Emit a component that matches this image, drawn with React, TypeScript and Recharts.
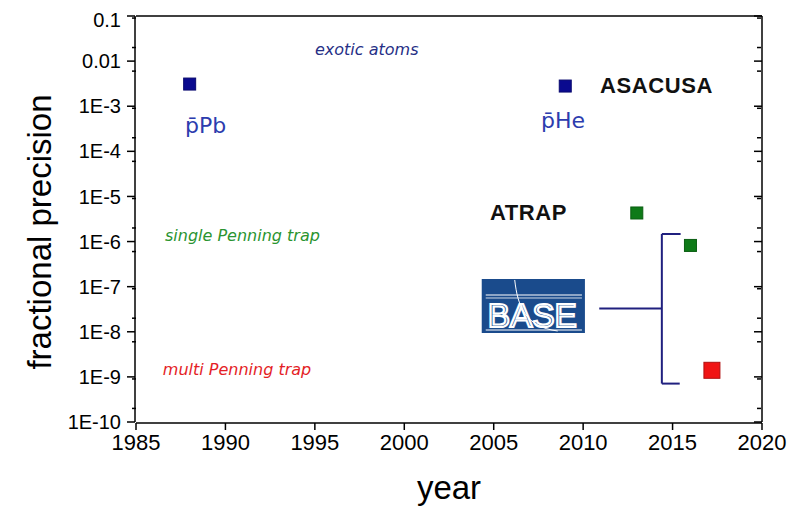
import {
  ReferenceArea,
  ReferenceDot,
  ReferenceLine,
  Scatter,
  ScatterChart,
  XAxis,
  YAxis,
} from 'recharts'

const yearTicks = [1985, 1990, 1995, 2000, 2005, 2010, 2015, 2020]
const yearMinorTicks = [1987.5, 1992.5, 1997.5, 2002.5, 2007.5, 2012.5, 2017.5]
const precisionTicks = [1e-10, 1e-9, 1e-8, 1e-7, 1e-6, 1e-5, 1e-4, 1e-3, 1e-2, 1e-1]
const precisionLabels = ['1E-10', '1E-9', '1E-8', '1E-7', '1E-6', '1E-5', '1E-4', '1E-3', '0.01', '0.1']
// log minor ticks: 2..9 inside each decade
const precisionMinorTicks = precisionTicks
  .slice(0, -1)
  .flatMap((d) => [2, 3, 4, 5, 6, 7, 8, 9].map((m) => m * d))

// antiprotonic atoms (pPb, pHe)
const exoticAtoms = [
  { year: 1988, precision: 3.1e-3 },
  { year: 2009, precision: 2.8e-3 },
]
// ATRAP 2013, BASE 2016
const singleTrap = [
  { year: 2013, precision: 4.3e-6 },
  { year: 2016, precision: 8.2e-7 },
]
// BASE 2017
const multiTrap = [{ year: 2017.2, precision: 1.4e-9 }]

// bracket joining the BASE logo to its two points
const bracketSegments = [
  [{ x: 2014.4, y: 1.47e-6 }, { x: 2014.4, y: 7.1e-10 }],
  [{ x: 2014.4, y: 1.47e-6 }, { x: 2015.45, y: 1.47e-6 }],
  [{ x: 2014.4, y: 7.1e-10 }, { x: 2015.4, y: 7.1e-10 }],
  [{ x: 2010.9, y: 3.3e-8 }, { x: 2014.4, y: 3.3e-8 }],
]
const logoBox = { x1: 2004.33, x2: 2010.1, y1: 9.4e-9, y2: 1.48e-7 }

type Note = {
  text: string
  year: number
  precision: number
  color: string
  size: number
  bold?: boolean
  italic?: boolean
  anchor?: 'start' | 'middle'
  font?: string
}

const notes: Note[] = [
  { text: 'exotic atoms', year: 1997.9, precision: 1.36e-2, color: '#262f86', size: 16, italic: true, anchor: 'middle' },
  { text: 'single Penning trap', year: 1986.62, precision: 1.03e-6, color: '#2a9430', size: 16, italic: true },
  { text: 'multi Penning trap', year: 1986.5, precision: 1.1e-9, color: '#e41e26', size: 16, italic: true },
  { text: 'p\u0304Pb', year: 1987.74, precision: 2.55e-4, color: '#2c3cae', size: 22 },
  { text: 'p\u0304He', year: 2007.64, precision: 3.3e-4, color: '#2c3cae', size: 22 },
  { text: 'ASACUSA', year: 2010.94, precision: 1.96e-3, color: '#111', size: 22, bold: true, font: 'Liberation Sans' },
  { text: 'ATRAP', year: 2004.79, precision: 3.0e-6, color: '#111', size: 22, bold: true, font: 'Liberation Sans' },
]

const tickFont = 'Liberation Sans, Arial, sans-serif'
const axisStroke = { stroke: '#000', strokeWidth: 1.5 }
// tick={false} drops the tick lines too, so unlabeled axes get an empty label instead
const noLabel = () => <g />

const square = (size: number, fill: string, stroke: string) => (props: any) => (
  <rect
    x={props.cx - size / 2}
    y={props.cy - size / 2}
    width={size}
    height={size}
    fill={fill}
    stroke={stroke}
    strokeWidth={1}
  />
)

function noteLabel(n: Note) {
  return (p: any) => (
    <text
      x={p.viewBox.x}
      y={p.viewBox.y}
      fill={n.color}
      fontSize={n.size}
      fontWeight={n.bold ? 'bold' : 'normal'}
      fontStyle={n.italic ? 'italic' : 'normal'}
      fontFamily={n.font ?? 'DejaVu Sans, Verdana, sans-serif'}
      textAnchor={n.anchor ?? 'start'}
      letterSpacing={n.bold ? 0.6 : 0}
    >
      {n.text}
    </text>
  )
}

function BaseLogo(p: any) {
  const { x, y, width, height } = p.viewBox
  return (
    <g>
      <line x1={x + 4} x2={x + width - 3} y1={y + 16} y2={y + 16} stroke="#fff" strokeWidth={1.2} />
      <line x1={x + 4} x2={x + width - 3} y1={y + 19} y2={y + 19} stroke="#fff" strokeWidth={0.8} />
      <line x1={x + 4} x2={x + width - 3} y1={y + height - 3} y2={y + height - 3} stroke="#fff" strokeWidth={1.2} />
      <text
        x={x + 6}
        y={y + height - 6}
        fill="#1a4b8c"
        stroke="#fff"
        strokeWidth={2.2}
        fontSize={34}
        fontFamily="Liberation Sans, Arial, sans-serif"
        textLength={width - 14}
        lengthAdjust="spacingAndGlyphs"
      >
        BASE
      </text>
      <path
        d={`M ${x + 33} ${y + 1} C ${x + 36} ${y + 28}, ${x + 44} ${y + height - 6}, ${x + 76} ${y + height - 2}`}
        fill="none"
        stroke="#fff"
        strokeWidth={1}
      />
    </g>
  )
}

export default function App() {
  const labelFor = new Map(precisionTicks.map((t, i) => [t, precisionLabels[i]]))
  return (
    <ScatterChart
      width={790}
      height={501}
      margin={{ top: 8, right: 36, bottom: 0, left: 0 }}
      style={{ fontFamily: tickFont }}
    >
      <XAxis
        xAxisId="main"
        type="number"
        dataKey="year"
        domain={[1985, 2020]}
        allowDataOverflow
        ticks={yearTicks}
        tickSize={7}
        tickMargin={4}
        axisLine={axisStroke}
        tickLine={axisStroke}
        tick={{ fill: '#000', fontSize: 22, fontFamily: tickFont }}
        height={86}
        label={(p: any) => (
          <text
            x={p.viewBox.x + p.viewBox.width / 2}
            y={p.viewBox.y + p.viewBox.height - 10}
            textAnchor="middle"
            fontSize={33}
            fontFamily={tickFont}
            fill="#000"
          >
            year
          </text>
        )}
      />
      {/* minor ticks: 1px-high axis that ends up right against the frame */}
      <XAxis
        xAxisId="bottomMinor"
        type="number"
        domain={[1985, 2020]}
        allowDataOverflow
        ticks={yearMinorTicks}
        tick={noLabel}
        tickSize={4}
        axisLine={false}
        tickLine={axisStroke}
        height={1}
      />
      <XAxis
        xAxisId="top"
        orientation="top"
        type="number"
        domain={[1985, 2020]}
        allowDataOverflow
        ticks={yearTicks}
        mirror
        tick={noLabel}
        tickSize={7}
        axisLine={axisStroke}
        tickLine={axisStroke}
        height={1}
      />
      <XAxis
        xAxisId="topMinor"
        orientation="top"
        type="number"
        domain={[1985, 2020]}
        allowDataOverflow
        ticks={yearMinorTicks}
        mirror
        tick={noLabel}
        tickSize={4}
        axisLine={false}
        tickLine={axisStroke}
        height={1}
      />
      <YAxis
        yAxisId="main"
        type="number"
        dataKey="precision"
        scale="log"
        domain={[1e-10, 0.1]}
        allowDataOverflow
        ticks={precisionTicks}
        tickFormatter={(v: number) => labelFor.get(v) ?? ''}
        tickSize={8}
        tickMargin={6}
        axisLine={axisStroke}
        tickLine={axisStroke}
        tick={{ fill: '#000', fontSize: 20, fontFamily: tickFont }}
        width={127}
        label={(p: any) => {
          const cx = p.viewBox.x + 31
          const cy = p.viewBox.y + p.viewBox.height / 2 + 13
          return (
            <text
              x={cx}
              y={cy}
              transform={`rotate(-90 ${cx} ${cy})`}
              textAnchor="middle"
              dominantBaseline="central"
              fontSize={33}
              fontFamily={tickFont}
              fill="#000"
            >
              fractional precision
            </text>
          )
        }}
      />
      <YAxis
        yAxisId="leftMinor"
        type="number"
        scale="log"
        domain={[1e-10, 0.1]}
        allowDataOverflow
        ticks={precisionMinorTicks}
        tick={noLabel}
        tickSize={4}
        axisLine={false}
        tickLine={axisStroke}
        width={1}
      />
      <YAxis
        yAxisId="right"
        orientation="right"
        type="number"
        scale="log"
        domain={[1e-10, 0.1]}
        allowDataOverflow
        ticks={precisionTicks}
        mirror
        tick={noLabel}
        tickSize={8}
        axisLine={axisStroke}
        tickLine={axisStroke}
        width={1}
      />
      <YAxis
        yAxisId="rightMinor"
        orientation="right"
        type="number"
        scale="log"
        domain={[1e-10, 0.1]}
        allowDataOverflow
        ticks={precisionMinorTicks}
        mirror
        tick={noLabel}
        tickSize={4}
        axisLine={false}
        tickLine={axisStroke}
        width={1}
      />

      <ReferenceArea
        xAxisId="main"
        yAxisId="main"
        x1={logoBox.x1}
        x2={logoBox.x2}
        y1={logoBox.y1}
        y2={logoBox.y2}
        fill="#1a4b8c"
        fillOpacity={1}
        stroke="none"
        label={BaseLogo}
      />
      {bracketSegments.map((seg, i) => (
        <ReferenceLine
          key={i}
          xAxisId="main"
          yAxisId="main"
          segment={seg}
          stroke="#20207f"
          strokeWidth={2}
        />
      ))}

      <Scatter
        xAxisId="main"
        yAxisId="main"
        data={exoticAtoms}
        shape={square(12, '#0a0a8f', '#0a0a6f')}
        isAnimationActive={false}
      />
      <Scatter
        xAxisId="main"
        yAxisId="main"
        data={singleTrap}
        shape={square(12, '#0e7a18', '#0a5e12')}
        isAnimationActive={false}
      />
      <Scatter
        xAxisId="main"
        yAxisId="main"
        data={multiTrap}
        shape={square(16, '#f01414', '#b01010')}
        isAnimationActive={false}
      />

      {notes.map((n) => (
        <ReferenceDot
          key={n.text}
          xAxisId="main"
          yAxisId="main"
          x={n.year}
          y={n.precision}
          r={0}
          fill="none"
          stroke="none"
          label={noteLabel(n)}
        />
      ))}
    </ScatterChart>
  )
}
